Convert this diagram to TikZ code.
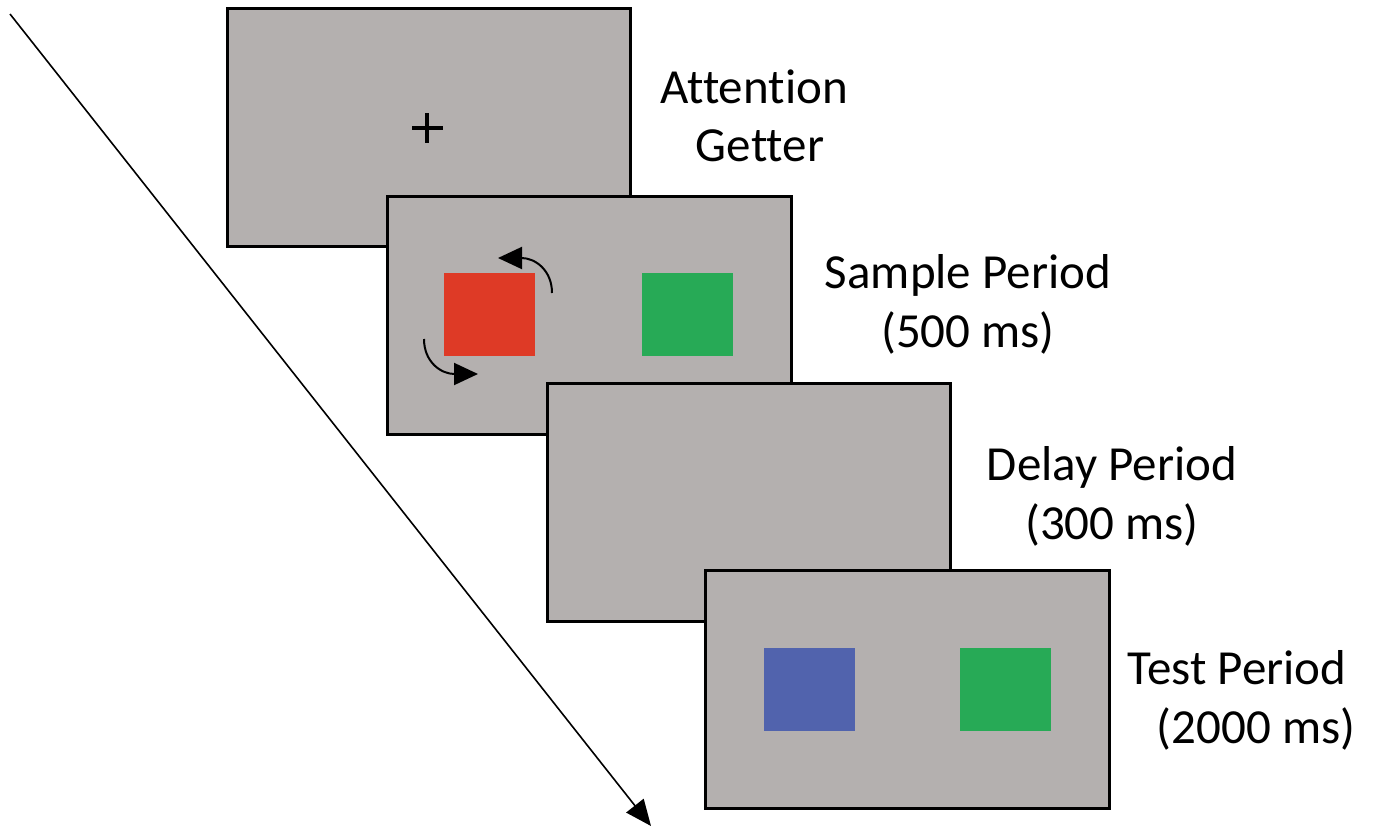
\documentclass[tikz,border=0pt]{standalone}
\usepackage{fontspec}
\setmainfont{Carlito}[Ligatures={NoCommon}]
\usetikzlibrary{arrows.meta}
\definecolor{scr}{RGB}{180,176,175}
\definecolor{sred}{RGB}{222,58,38}
\definecolor{sgreen}{RGB}{39,170,86}
\definecolor{sblue}{RGB}{81,99,173}
\tikzset{
  screen/.style={draw=black,fill=scr,line width=3pt},
  lbl/.style={font=\fontsize{49}{58}\selectfont,align=center,inner sep=0pt},
  rot/.style={line width=2pt,-{Triangle[length=24pt,width=22pt]}}
}
\begin{document}
\begin{tikzpicture}[x=1pt,y=-1pt]
\useasboundingbox (0,0) rectangle (1373,825);
% time arrow
\coordinate (t0) at (10,14);
\coordinate (t1) at (651,826);
\draw[line width=1.6pt,-{Triangle[length=26pt,width=22pt]}] (t0) -- (t1);
% screens
\draw[screen] (227,8) rectangle (630,246);
\draw[black,line width=3.5pt] (412,128) -- (443,128) (427,113) -- (427,143);
\draw[screen] (387,196) rectangle (791,434);
\fill[sred] (444,273) rectangle (535,356);
\fill[sgreen] (642,273) rectangle (733,356);
\draw[rot] (552,293) .. controls (552,270) and (535,258) .. (498,258);
\draw[rot] (424,339) .. controls (424,362) and (441,374) .. (478,374);
\draw[screen] (547,383) rectangle (950,621);
\draw[screen] (705,570) rectangle (1109,808);
\fill[sblue] (764,648) rectangle (855,731);
\fill[sgreen] (960,648) rectangle (1051,731);
% labels
\node[lbl,anchor=base] (l1a) at (754,103) {Attention};
\node[lbl,anchor=base] (l1b) at (760,161) {Getter};
\node[lbl,anchor=base] (l2a) at (968,288) {Sample Period};
\node[lbl,anchor=base] (l2b) at (968,347) {(500 ms)};
\node[lbl,anchor=base] (l3a) at (1112,480) {Delay Period};
\node[lbl,anchor=base] (l3b) at (1112,539) {(300 ms)};
\node[lbl,anchor=base] (l4a) at (1237,684) {Test Period};
\node[lbl,anchor=base] (l4b) at (1256,743) {(2000 ms)};
\end{tikzpicture}
\end{document}
